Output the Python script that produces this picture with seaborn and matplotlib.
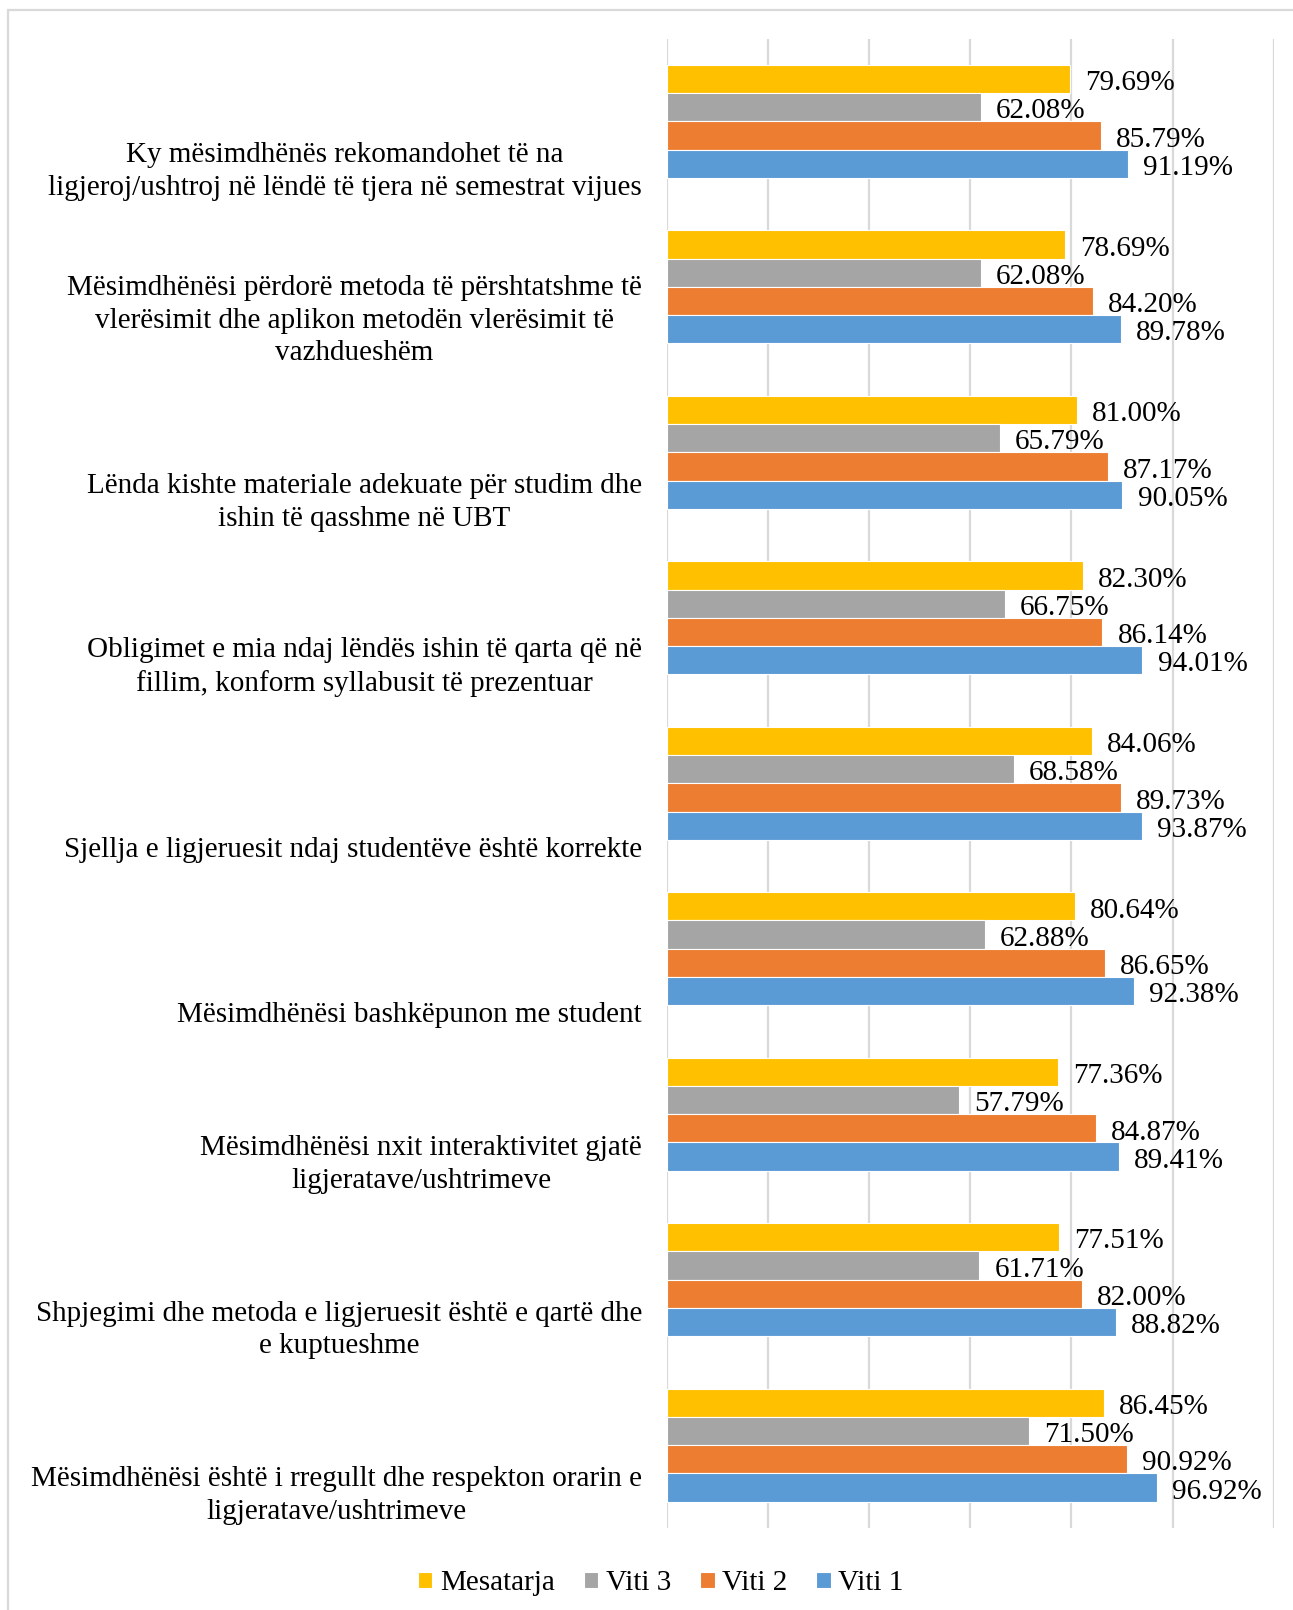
import pandas as pd
import seaborn as sns
import matplotlib.pyplot as plt
import matplotlib.transforms as mtransforms
from matplotlib.lines import Line2D

# questions, top to bottom
categories = [
    'Ky mësimdhënës rekomandohet të na\nligjeroj/ushtroj në lëndë të tjera në semestrat vijues',
    'Mësimdhënësi përdorë metoda të përshtatshme të\nvlerësimit dhe aplikon metodën vlerësimit të\nvazhdueshëm',
    'Lënda kishte materiale adekuate për studim dhe\nishin të qasshme në UBT',
    'Obligimet e mia ndaj lëndës ishin të qarta që në\nfillim, konform syllabusit të prezentuar',
    'Sjellja e ligjeruesit ndaj studentëve është korrekte',
    'Mësimdhënësi bashkëpunon me student',
    'Mësimdhënësi nxit interaktivitet gjatë\nligjeratave/ushtrimeve',
    'Shpjegimi dhe metoda e ligjeruesit është e qartë dhe\ne kuptueshme',
    'Mësimdhënësi është i rregullt dhe respekton orarin e\nligjeratave/ushtrimeve',
]
series = ['Mesatarja', 'Viti 3', 'Viti 2', 'Viti 1']
mesatarja = [79.69, 78.69, 81.00, 82.30, 84.06, 80.64, 77.36, 77.51, 86.45]
viti3 = [62.08, 62.08, 65.79, 66.75, 68.58, 62.88, 57.79, 61.71, 71.50]
viti2 = [85.79, 84.20, 87.17, 86.14, 89.73, 86.65, 84.87, 82.00, 90.92]
viti1 = [91.19, 89.78, 90.05, 94.01, 93.87, 92.38, 89.41, 88.82, 96.92]
colors = ['#FFC000', '#A5A5A5', '#ED7D31', '#5B9BD5']

rows = []
for name, vals in zip(series, [mesatarja, viti3, viti2, viti1]):
    for c, v in zip(categories, vals):
        rows.append({'kategoria': c, 'seria': name, 'vlera': v})
df = pd.DataFrame(rows)

sns.set_style('white')
plt.rcParams['font.family'] = ['Liberation Serif', 'DejaVu Serif']
plt.rcParams['text.color'] = 'black'
fs = 21

fig = plt.figure(figsize=(12.93, 16.10), dpi=100)
ax = fig.add_axes([0.516, 0.051, 0.469, 0.925])

sns.barplot(data=df, x='vlera', y='kategoria', hue='seria', order=categories,
            hue_order=series, palette=colors, saturation=1, orient='h', width=0.683,
            edgecolor='white', linewidth=0.8, errorbar=None, ax=ax)

for cont in ax.containers:
    anns = ax.bar_label(cont, labels=[f'{v:.2f}%' for v in cont.datavalues],
                        padding=11, fontsize=fs, color='black')
    for a in anns:
        a.xyann = (11, -3)

ax.set_xlim(0, 120)
ax.set_ylim(len(categories) - 0.5, -0.5)
ax.set_xticks(range(0, 121, 20))
ax.grid(axis='x', color='#D9D9D9', linewidth=1.6)
ax.set_axisbelow(True)
for s in ax.spines.values():
    s.set_visible(False)
ax.tick_params(left=False, bottom=False, labelleft=False, labelbottom=False)
ax.set_xlabel('')
ax.set_ylabel('')

# category labels, right-aligned and sitting at bottom of each slot
trans = mtransforms.blended_transform_factory(fig.transFigure, ax.transData)
for i, c in enumerate(categories):
    ax.text(0.4965, i + 0.48, c, transform=trans, ha='right', va='bottom',
            multialignment='center', fontsize=fs, linespacing=1.33, color='black')

handles, labels = ax.get_legend_handles_labels()
ax.get_legend().remove()
fig.legend(handles, labels, loc='center', bbox_to_anchor=(0.511, 0.0165), ncol=4,
           frameon=False, fontsize=fs, handlelength=0.5, handleheight=0.5,
           handletextpad=0.25, columnspacing=1.0, labelcolor='black')

# chart area border (top and left visible)
fig.add_artist(Line2D([8 / 1293, 1], [1 - 10 / 1610, 1 - 10 / 1610],
                      color='#D9D9D9', linewidth=1.6, transform=fig.transFigure))
fig.add_artist(Line2D([8 / 1293, 8 / 1293], [0, 1 - 10 / 1610],
                      color='#D9D9D9', linewidth=1.6, transform=fig.transFigure))

fig.savefig('out.png', dpi=100)
